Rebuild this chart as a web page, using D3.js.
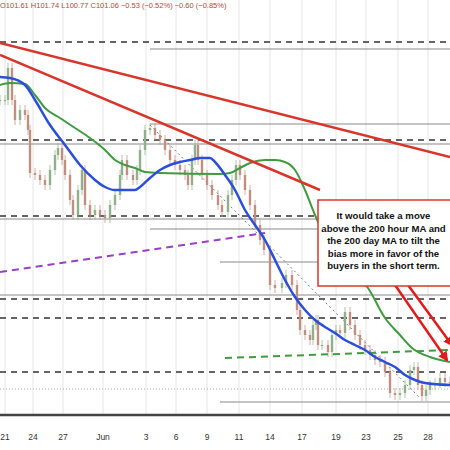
<!DOCTYPE html>
<html>
<head>
<meta charset="utf-8">
<script src="https://cdn.jsdelivr.net/npm/d3@7"></script>
<style>
body { margin: 0; background: #fff; }
svg { font-family: "Liberation Sans", Arial, sans-serif; }
</style>
</head>
<body>
<script>
// bar position (session units) and close prices
var barX = [0,0.5,0.8,1.2,1.5,2,2.5,2.8,3,3.5,4,4.5,5,5.5,5.8,6.2,6.5,7,7.3,7.8,8.2,8.5,9,9.5,10,10.5,11,11.5,12,12.2,12.7,13.3,13.7,14,14.5,15,15.5,16,16.5,17,17.5,18,18.5,18.8,19.2,19.5,19.8,20.2,20.7,21.2,21.8,22.2,22.8,23.2,23.6,24,24.5,25,25.5,26,26.4,27,27.5,28.2,28.6,29.2,29.7,30,30.5,31,31.3,31.6,31.8,32.2,32.8,33.2,33.6,34,34.5,35,35.5,36,36.5,37,37.5,38,38.5,39,39.5,40,40.5,41,41.4,41.8,42.2,42.6,43,43.5,44,44.5,45];
var closes = [103.90,103.90,104.22,103.90,103.70,103.80,103.75,103.60,103.17,103.15,103.10,103.05,103.20,103.35,103.42,103.30,103.15,102.90,102.75,103.00,103.20,102.85,102.75,102.80,102.75,102.72,102.85,102.95,103.15,103.30,103.15,103.10,103.20,103.40,103.60,103.62,103.55,103.50,103.40,103.30,103.25,103.20,103.15,103.05,103.30,103.45,103.30,103.15,103.05,102.95,102.85,102.78,102.95,103.10,103.25,103.15,103.00,102.85,102.65,102.50,102.40,102.05,102.02,102.07,102.15,102.05,101.80,101.60,101.55,101.50,101.65,101.70,101.45,101.45,101.38,101.55,101.60,101.57,101.78,101.65,101.55,101.45,101.40,101.35,101.30,101.28,101.18,100.97,100.95,100.97,101.05,101.20,101.23,101.05,100.94,101.00,101.05,101.07,101.12,101.08,101.07];

// 100 hour MA (blue)
var ma100 = [[0,104.13],[1,104.12],[2.5,104.05],[3.5,103.90],[5,103.65],[6.5,103.45],[8,103.25],[9.5,103.10],[10.5,103.03],[11.5,103.00],[13.5,103.00],[14,103.03],[15,103.12],[16,103.20],[17,103.25],[18,103.28],[19,103.30],[20,103.32],[21,103.32],[21.5,103.28],[22.5,103.15],[23.5,103.00],[24.5,102.80],[25.5,102.65],[26.5,102.50],[27.5,102.30],[28.5,102.10],[29.5,101.93],[30.5,101.80],[31.5,101.70],[32.5,101.63],[33.5,101.57],[34.5,101.50],[35.5,101.45],[36.5,101.40],[37.5,101.33],[38.5,101.28],[39.5,101.23],[40.5,101.15],[41.5,101.10],[42.5,101.07],[45,101.05]];
// 200 hour MA (green)
var ma200 = [[0,104.05],[1,104.07],[2.5,104.06],[3.5,103.95],[4.5,103.82],[6,103.72],[7.5,103.62],[9,103.52],[10.5,103.40],[11.5,103.30],[12.5,103.25],[13.5,103.22],[14.5,103.18],[16,103.17],[22,103.16],[23,103.17],[24,103.22],[25,103.27],[26.5,103.30],[27.5,103.30],[28.5,103.28],[29.5,103.20],[30.5,103.00],[31.5,102.75],[33,102.45],[35,102.20],[36.8,102.02],[38.5,101.72],[40,101.55],[41.2,101.42],[43,101.33],[45,101.28]];
// daily MAs (dashed)
var dayMaPurple = [[0,102.18],[26.5,102.57]];
var dayMaGreen = [[22.5,101.32],[45,101.40]];

// trend lines
var trendLines = [[[0,104.47],[45,103.33]],[[0,104.35],[32,103.00]]];
var dottedTrend = [[15,103.65],[42,100.92]];

// horizontal levels
var dashedLevels = [104.48,103.50,102.74,101.91,101.72,101.18];
var grayLevels = [[104.41,15,45],[103.66,15,45],[103.46,0,45],[102.71,0,45],[102.61,15,45],[102.28,22,45],[101.95,0,45],[100.88,22,45]];
var dottedLevels = [101.01];
var floorLevel = 100.75;

var tickPos = [0.5,3.3,6.3,10.3,14.6,17.6,20.7,23.9,27,30.2,33.6,36.6,39.8,42.8];
var tickLabels = ["21","24","27","Jun","3","6","9","11","14","17","19","23","25","28"];

var noteLines = ["It would take a move","above the 200 hour MA and","the 200 day MA to tilt the","bias more in favor of the","buyers in the short term."];
var header = "O101.61 H101.74 L100.77 C101.06 \u22120.53 (\u22120.52%) \u22120.60 (\u22120.85%)";

var W = 450, H = 450;
var x = d3.scaleLinear().domain([0, 45]).range([0, 450]);
var y = d3.scaleLinear().domain([104.9, 100.4]).range([0, 450]);

var svg = d3.select("body").append("svg").attr("width", W).attr("height", H);
svg.append("rect").attr("width", W).attr("height", H).attr("fill", "#fff");

//vertical grid
svg.selectAll(".vg").data(tickPos).enter().append("line")
    .attr("x1", d => x(d)).attr("x2", d => x(d))
    .attr("y1", 0).attr("y2", y(floorLevel))
    .attr("stroke", "#e6e6e6");

//gray levels
svg.selectAll(".gl").data(grayLevels).enter().append("line")
    .attr("x1", d => x(d[1])).attr("x2", d => x(d[2]))
    .attr("y1", d => y(d[0])).attr("y2", d => y(d[0]))
    .attr("stroke", "#8a8a8a").attr("stroke-width", 1.2);

svg.selectAll(".dl").data(dottedLevels).enter().append("line")
    .attr("x1", 0).attr("x2", W).attr("y1", d => y(d)).attr("y2", d => y(d))
    .attr("stroke", "#aaa").attr("stroke-dasharray", "1,2");

//dashed levels
svg.selectAll(".dsh").data(dashedLevels).enter().append("line")
    .attr("x1", 0).attr("x2", W).attr("y1", d => y(d)).attr("y2", d => y(d))
    .attr("stroke", "#333").attr("stroke-width", 1.4).attr("stroke-dasharray", "6,5");

svg.append("line")
    .attr("x1", 0).attr("x2", W).attr("y1", y(floorLevel)).attr("y2", y(floorLevel))
    .attr("stroke", "#444").attr("stroke-width", 2.5);

var line = d3.line().x(d => x(d[0])).y(d => y(d[1]));
var curve = d3.line().x(d => x(d[0])).y(d => y(d[1])).curve(d3.curveMonotoneX);

svg.append("path").attr("d", line(dottedTrend)).attr("fill", "none")
    .attr("stroke", "#777").attr("stroke-dasharray", "2,3");

//candles (open = previous close)
var bars = closes.map(function (c, i) {
    var o = i ? closes[i - 1] : c;
    return { t: barX[i], o: o, c: c };
});
svg.selectAll(".wick").data(bars).enter().append("line")
    .attr("x1", d => x(d.t)).attr("x2", d => x(d.t))
    .attr("y1", d => y(Math.max(d.o, d.c) + 0.05)).attr("y2", d => y(Math.min(d.o, d.c) - 0.05))
    .attr("stroke", d => d.c >= d.o ? "#9ab88f" : "#c9998a").attr("stroke-width", 0.8);
svg.selectAll(".body").data(bars).enter().append("rect")
    .attr("x", d => x(d.t) - 1.2).attr("width", 2.4)
    .attr("y", d => y(Math.max(d.o, d.c)))
    .attr("height", d => Math.max(1, Math.abs(y(d.o) - y(d.c))))
    .attr("fill", d => d.c >= d.o ? "#8fb08a" : "#c08f80");

//moving averages
svg.append("path").attr("d", line(dayMaPurple)).attr("fill", "none")
    .attr("stroke", "#9b3fc4").attr("stroke-width", 2).attr("stroke-dasharray", "7,5");
svg.append("path").attr("d", line(dayMaGreen)).attr("fill", "none")
    .attr("stroke", "#3f9b3f").attr("stroke-width", 2).attr("stroke-dasharray", "7,5");
svg.append("path").attr("d", curve(ma200)).attr("fill", "none")
    .attr("stroke", "#3f9b3f").attr("stroke-width", 2);
svg.append("path").attr("d", curve(ma100)).attr("fill", "none")
    .attr("stroke", "#2b4fdb").attr("stroke-width", 2.5);

//trend lines
svg.selectAll(".tl").data(trendLines).enter().append("path")
    .attr("d", d => line(d)).attr("fill", "none")
    .attr("stroke", "#d9362b").attr("stroke-width", 2.5);

//arrows
svg.append("defs").append("marker").attr("id", "ah")
    .attr("viewBox", "0 0 10 10").attr("refX", 8).attr("refY", 5)
    .attr("markerWidth", 4).attr("markerHeight", 4).attr("orient", "auto")
    .append("path").attr("d", "M0,0L10,5L0,10z").attr("fill", "#e01b1b");
[[[39.5, 102.05], [44.7, 101.30]], [[40.8, 102.05], [45.2, 101.45]]].forEach(function (a) {
    svg.append("path").attr("d", line(a)).attr("stroke", "#e01b1b")
        .attr("stroke-width", 2.5).attr("marker-end", "url(#ah)");
});

//note box
svg.append("rect").attr("x", x(31.8)).attr("y", y(102.90))
    .attr("width", x(45.5) - x(31.8)).attr("height", y(102.04) - y(102.90))
    .attr("fill", "#fff").attr("stroke", "#d9362b").attr("stroke-width", 1.5);
svg.selectAll(".note").data(noteLines).enter().append("text")
    .attr("x", x(38.35)).attr("y", (d, i) => y(102.90) + 19 + i * 12.5)
    .attr("text-anchor", "middle").attr("font-size", 9.6).attr("font-weight", "bold")
    .attr("fill", "#111").text(d => d);

//header
svg.append("text").attr("x", 0).attr("y", 8).attr("font-size", 7.5)
    .attr("fill", "#b5473a").text(header);

//x axis labels
svg.selectAll(".xl").data(tickPos).enter().append("text")
    .attr("x", (d, i) => x(d)).attr("y", 440)
    .attr("text-anchor", "middle").attr("font-size", 8.5).attr("fill", "#333")
    .text((d, i) => tickLabels[i]);
</script>
</body>
</html>
